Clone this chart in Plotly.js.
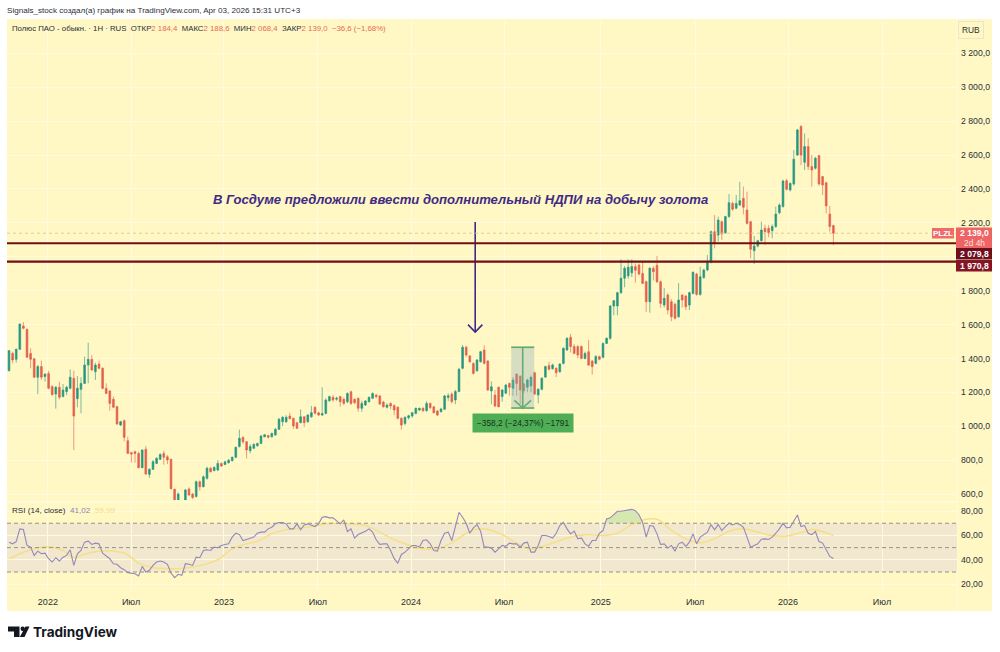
<!DOCTYPE html>
<html><head><meta charset="utf-8">
<script src="https://cdn.plot.ly/plotly-3.0.1.min.js"></script>
<style>html,body{margin:0;padding:0;background:#fff}#c{width:1000px;height:652px}</style>
</head><body><div id="c"></div>
<script>
const opens=[1328,1430,1395,1454,1592,1572,1430,1399,1289,1352,
1293,1312,1234,1190,1230,1175,1204,1224,1283,1163,
1218,1253,1361,1395,1322,1367,1342,1224,1208,1159,
1116,1007,1033,915,844,850,840,756,864,716,
746,781,805,840,820,805,628,560,555,565,
630,600,585,673,643,693,752,738,742,781,
775,785,797,817,880,935,909,856,870,885,
899,938,945,938,948,982,1027,1027,1060,1047,
1021,1021,1056,1027,1056,1112,1080,1066,1076,1150,
1171,1160,1175,1159,1145,1204,1159,1165,1106,1125,
1145,1165,1184,1179,1143,1112,1135,1122,1112,1047,
1017,1050,1060,1076,1096,1106,1092,1135,1115,1090,
1086,1100,1170,1190,1155,1205,1342,1466,1415,1371,
1328,1381,1450,1385,1208,1184,1230,1175,1195,1253,
1224,1308,1296,1250,1230,1238,1316,1184,1218,1290,
1358,1340,1342,1322,1371,1450,1525,1470,1470,1470,
1400,1440,1385,1371,1411,1407,1489,1519,1710,1710,
1788,1873,1887,1905,1942,1952,1902,1853,1735,1932,
1950,1853,1715,1775,1735,1720,1646,1774,1768,1715,
1784,1898,1778,1877,1922,1971,2148,2128,2207,2142,
2237,2315,2286,2305,2345,2276,2207,2036,2063,2095,
2168,2168,2154,2178,2260,2296,2449,2394,2429,2600,
2768,2557,2650,2532,2522,2597,2473,2437,2252,2184.4];
const highs=[1450,1440,1458,1607,1615,1576,1460,1403,1362,1387,
1312,1326,1243,1238,1263,1249,1238,1336,1328,1296,
1289,1411,1493,1420,1375,1387,1348,1253,1214,1175,
1120,1033,1041,938,850,856,850,864,883,752,
801,817,840,856,830,809,632,610,558,630,
640,606,680,680,710,762,760,765,800,787,
797,806,822,880,980,940,912,895,900,903,
950,955,950,963,990,1050,1060,1065,1080,1050,
1025,1100,1060,1072,1120,1118,1085,1230,1165,1180,
1185,1175,1180,1170,1200,1210,1165,1170,1150,1155,
1175,1200,1190,1185,1150,1135,1140,1130,1118,1052,
1058,1068,1085,1110,1110,1112,1148,1140,1120,1095,
1110,1185,1195,1200,1215,1345,1480,1475,1420,1378,
1397,1445,1478,1390,1265,1215,1235,1220,1250,1258,
1290,1312,1300,1255,1280,1300,1322,1225,1290,1358,
1380,1370,1348,1372,1465,1525,1545,1485,1480,1478,
1440,1510,1390,1420,1416,1495,1525,1715,1745,1795,
1985,1945,1985,1985,1960,1960,1970,1860,1940,1945,
2005,1860,1815,1785,1750,1730,1845,1780,1775,1795,
1914,1905,1941,1930,2010,2155,2246,2237,2215,2242,
2370,2325,2364,2442,2414,2384,2212,2122,2100,2207,
2190,2187,2191,2296,2315,2455,2460,2440,2630,2755,
2777,2728,2699,2600,2590,2600,2477,2442,2300,2188.6];
const lows=[1324,1371,1375,1450,1572,1403,1342,1285,1190,1273,
1263,1218,1182,1104,1159,1171,1184,1218,860,1112,
1076,1249,1253,1328,1273,1336,1218,1190,1092,1108,
1009,1001,911,836,787,785,752,752,714,695,
742,777,801,773,777,628,520,545,520,540,
590,570,580,620,640,685,727,735,735,760,
770,780,792,812,875,895,810,840,865,880,
895,935,928,933,945,978,1000,1020,1040,985,
983,1018,995,1020,1050,1070,1060,1060,1070,1145,
1145,1150,1115,1125,1135,1125,1130,1085,1085,1120,
1140,1160,1165,1125,1110,1105,1100,1065,1040,980,
1005,1040,1050,1070,1090,1085,1085,1100,1075,1060,
1080,1095,1150,1135,1130,1200,1335,1410,1375,1305,
1320,1375,1365,1208,1130,1112,1112,1145,1190,1180,
1180,1180,1130,1195,1200,1200,1183,1135,1212,1285,
1330,1335,1290,1315,1365,1445,1435,1425,1400,1395,
1395,1355,1305,1365,1390,1400,1485,1510,1655,1655,
1780,1820,1870,1880,1848,1890,1840,1675,1670,1860,
1845,1700,1700,1660,1620,1630,1640,1700,1686,1686,
1778,1770,1770,1870,1915,1960,2050,2089,2100,2135,
2230,2272,2280,2300,2250,2190,1991,1957,2055,2089,
2069,2115,2109,2170,2250,2290,2390,2385,2420,2595,
2541,2512,2512,2414,2515,2420,2364,2256,2148,2068.4];
const closes=[1446,1391,1454,1603,1578,1407,1395,1289,1352,1289,
1308,1224,1186,1230,1171,1214,1230,1289,1060,1224,
1253,1361,1395,1332,1361,1342,1224,1194,1135,1112,
1013,1027,935,840,836,840,756,860,718,746,
791,811,834,817,801,632,540,600,530,624,
594,580,673,643,702,752,732,757,781,765,
790,800,817,876,929,909,860,880,893,899,
942,950,935,958,982,1041,1053,1053,1045,1002,
988,1056,1021,1066,1080,1077,1066,1075,1155,1175,
1155,1165,1145,1135,1194,1135,1139,1106,1135,1149,
1171,1194,1175,1131,1115,1125,1120,1096,1047,1007,
1053,1062,1080,1106,1106,1092,1135,1110,1080,1066,
1102,1179,1180,1145,1205,1336,1466,1420,1381,1312,
1391,1440,1371,1214,1233,1120,1115,1214,1243,1230,
1273,1253,1214,1210,1273,1289,1190,1218,1283,1352,
1336,1362,1316,1367,1460,1519,1470,1430,1420,1400,
1430,1361,1352,1411,1395,1489,1519,1710,1741,1788,
1873,1932,1938,1942,1920,1898,1843,1735,1932,1912,
1853,1725,1755,1686,1646,1637,1745,1745,1705,1788,
1908,1778,1882,1922,1965,2148,2079,2217,2134,2237,
2319,2280,2315,2331,2292,2197,2044,2063,2095,2158,
2148,2142,2178,2252,2305,2447,2398,2433,2575,2748,
2600,2650,2532,2512,2581,2429,2423,2300,2178,2139];
const rsi=[54.5,53.1,55,65.4,64.8,51.8,50.4,43.6,47.1,45,
45.5,40.9,38.2,41.7,39,42.2,43.6,48.2,35.4,45,
47.7,54.5,55.3,52.6,53.7,53.1,45.5,43,40.9,36.8,
36.3,33.5,31.9,29.5,29.2,28.6,26.7,34.6,30,31.4,
35.4,38.2,39,38.2,36.3,29.2,25.4,28.1,27.3,36.8,
36.3,35.4,42.2,41.7,47.7,48.2,47.7,50.4,49.9,51.8,
52.6,53.1,58.6,61.8,60.7,55.8,56.7,57.8,58.6,61.8,
62.7,62.7,65.4,66.7,69.5,70.5,70.5,69.5,65.4,65.4,
69.5,64.6,68.6,69.5,68.1,67.3,69.5,74.9,75.4,74.4,
74.4,72.2,69.5,72.7,63.2,65.4,57.8,60.7,61.8,63.5,
65.4,62.7,56.4,52.6,53.1,53.1,47.7,40.9,37.3,44.4,
46.3,49,51.8,51.8,50.4,55.8,56.4,53.1,47.7,47.1,
55.8,61.8,62.7,55.8,66.7,79,74.9,70,61.8,66.2,
68.9,63.5,50.4,50.4,49.6,46.3,49,51.8,51,53.7,
53.1,53.1,50.4,53.7,54.5,46.3,46.3,51.8,59.9,59.9,
59.1,57.8,61.8,68.1,70.8,65.4,61.3,63.5,57.2,58,
53.1,51.2,55.8,55.8,61.8,64,73.5,74.4,77,79.8,
79.8,80.5,81.2,81.4,80.3,77,70.8,58.6,68.1,67.6,
61.3,52.6,53.1,49.6,51.8,47.1,53.1,54.5,51,54.5,
61.3,53.1,58.6,60.7,62.7,68.9,64.6,68.9,64,67.3,
70,68.6,70,68.9,66.7,58.6,50.4,51.8,53.1,56.9,
57.2,56.7,58.6,61.8,65.4,70,66.2,66.7,72.2,76.8,
67.3,68.1,61.8,60.7,63.2,55,53.7,47.7,42.8,41.02];
const maWeeks=[0,3,7,9.5,12,15,18,21.5,25,29,32.5,36,40,43.5,47,51,55,58.5,62,66,69.5,73,77,80.5,84,88,91.5,95,99,103,106.5,110,114,119,124,128,132,136.5,140.5,144.5,149,153,157,161,165,169,173,177.5,180.5,183.5,188,192,196,200,204,208,212,216,220.5,223.5,229];
const maValues=[40.9,45,49,50.4,50.4,47.7,42.2,45,47.1,47.1,45,37.3,33.5,32.7,32.7,34.1,36.8,40.9,49,53.1,55.8,61.3,64.6,65.9,67.3,69.5,70,69.5,68.1,62.7,57.2,53.1,49.6,49,55.8,63.5,65.4,61.3,54.5,49,51.8,55.8,59.4,60.7,59.9,61.8,68.9,73.5,72.7,65.4,57.2,53.9,57.2,63.5,65.4,62.7,59.9,59.4,62.7,64.8,59.99];
const obWeeks=[166,167,168,169,170,171,172,173,174,175,176];
const obValues=[73.5,74.4,77,79.8,79.8,80.5,81.2,81.4,80.3,77,70.8];
const priceTicks=[600,800,1000,1200,1400,1600,1800,2000,2200,2400,2600,2800,3000,3200];
const priceTickText=['600,0','800,0','1 000,0','1 200,0','1 400,0','1 600,0','1 800,0','','2 200,0','2 400,0','2 600,0','2 800,0','3 000,0','3 200,0'];
const rsiTicks=[20,40,60,80];
const rsiTickText=['20,00','40,00','60,00','80,00'];
const timeTicks=[10.8,33.9,59.7,85.8,111.7,137.5,164.4,190.6,216.4,242.5];
const timeTickText=['2022','Июл','2023','Июл','2024','Июл','2025','Июл','2026','Июл'];
const supportLevels=[2079.8,1970.8];
const lastClose=2139;
const newsArrowX=[129.5,129.5,null,127.5,129.5,131.5];
const newsArrowY=[2205,1556,null,1600,1556,1600];
const measureFrom=[139.5,145.9];
const measureLevels=[1466,1107.8];

const weeks=opens.map((_,i)=>i);
const W=1000,H=652,L=7,R=992,T=19,B=611;
const px=x=>(x-L)/(R-L), py=y=>1-(y-T)/(B-T);
const BG='#fff8c5',GRID='#fffbdc',TXT='#2a2e39';
const UI='"Liberation Sans",Arial,sans-serif';
const UP='#27967f',DOWN='#e2604c';
const LINE={family:UI,size:8.7,color:TXT};
const mx=(a,b)=>(a+b)/2;

const traces=[
{type:'candlestick',x:weeks,open:opens,high:highs,low:lows,close:closes,xaxis:'x',yaxis:'y',whiskerwidth:0,hoverinfo:'skip',
 increasing:{line:{color:'rgba(39,150,127,0.62)',width:1},fillcolor:UP},
 decreasing:{line:{color:'rgba(226,96,76,0.62)',width:1},fillcolor:DOWN}},
{type:'scatter',mode:'lines',x:newsArrowX,y:newsArrowY,xaxis:'x',yaxis:'y',line:{color:'#3d2c85',width:1.6},hoverinfo:'skip'},
{type:'scatter',mode:'lines',x:[measureFrom[0],measureFrom[1],null,measureFrom[0],measureFrom[1],null,mx(...measureFrom),mx(...measureFrom),null,measureFrom[0]+0.9,mx(...measureFrom),measureFrom[1]-0.9],
 y:[measureLevels[0],measureLevels[0],null,measureLevels[1],measureLevels[1],null,measureLevels[0],measureLevels[1],null,measureLevels[1]+45,measureLevels[1],measureLevels[1]+45],xaxis:'x',yaxis:'y',line:{color:'#4dab52',width:1.6},hoverinfo:'skip'},
{type:'scatter',mode:'lines',x:obWeeks,y:obWeeks.map(()=>70),xaxis:'x',yaxis:'y2',line:{width:0},hoverinfo:'skip'},
{type:'scatter',mode:'lines',x:obWeeks,y:obValues,xaxis:'x',yaxis:'y2',fill:'tonexty',fillcolor:'rgba(130,195,140,0.32)',line:{width:0},hoverinfo:'skip'},
{type:'scatter',mode:'lines',x:maWeeks,y:maValues,xaxis:'x',yaxis:'y2',line:{color:'#f5e08a',width:1.6,shape:'spline'},hoverinfo:'skip'},
{type:'scatter',mode:'lines',x:weeks,y:rsi,xaxis:'x',yaxis:'y2',line:{color:'#9488ba',width:1.1},hoverinfo:'skip'}
];

const shapes=[
 {type:'rect',xref:'paper',yref:'paper',x0:0,x1:1,y0:0,y1:1,fillcolor:BG,line:{width:0},layer:'below'},
 {type:'line',xref:'x',yref:'paper',x0:-1,x1:264,y0:py(502),y1:py(502),line:{color:GRID,width:1.5},layer:'below'},
 {type:'line',xref:'paper',yref:'paper',x0:px(957),x1:px(957),y0:0,y1:1,line:{color:GRID,width:1},layer:'below'},
 {type:'rect',xref:'paper',yref:'y2',x0:0,x1:px(957),y0:30,y1:70,fillcolor:'#f1e8cf',line:{width:0},layer:'below'},
 {type:'line',xref:'paper',yref:'y',x0:0,x1:px(957),y0:lastClose,y1:lastClose,line:{color:'#e6c79c',width:1,dash:'dot'}},
 ...[70,50,30].map(v=>({type:'line',xref:'paper',yref:'y2',x0:0,x1:px(957),y0:v,y1:v,line:{color:'#98937f',width:1,dash:'4px,3px'}})),
 ...supportLevels.map(v=>({type:'line',xref:'paper',yref:'y',x0:0,x1:px(957),y0:v,y1:v,line:{color:'#6e1015',width:2.2}})),
 {type:'rect',xref:'x',yref:'y',x0:measureFrom[0],x1:measureFrom[1],y0:measureLevels[1],y1:measureLevels[0],fillcolor:'rgba(140,175,185,0.36)',line:{width:0}},
 {type:'rect',xref:'paper',yref:'paper',x0:px(932),x1:px(954),y0:py(238.5),y1:py(228),fillcolor:'#ee6c6c',line:{width:0}},
 {type:'rect',xref:'paper',yref:'paper',x0:px(956),x1:1,y0:py(248),y1:py(227.5),fillcolor:'#ee6464',line:{width:0}},
 {type:'rect',xref:'paper',yref:'paper',x0:px(956),x1:1,y0:py(259.5),y1:py(248),fillcolor:'#6d0f1c',line:{width:0}},
 {type:'rect',xref:'paper',yref:'paper',x0:px(956),x1:1,y0:py(271.5),y1:py(260),fillcolor:'#851524',line:{width:0}},
 {type:'path',xref:'paper',yref:'paper',fillcolor:'#131722',line:{width:0},
  path:`M${px(8)} ${py(626.5)} L${px(19.5)} ${py(626.5)} L${px(19.5)} ${py(637)} L${px(14)} ${py(637)} L${px(14)} ${py(631.5)} L${px(8)} ${py(631.5)} Z`},
 {type:'circle',xref:'paper',yref:'paper',fillcolor:'#131722',line:{width:0},x0:px(20.5),x1:px(24.9),y0:py(631),y1:py(626.6)},
 {type:'path',xref:'paper',yref:'paper',fillcolor:'#131722',line:{width:0},
  path:`M${px(25.5)} ${py(626.5)} L${px(29.5)} ${py(626.5)} L${px(24.5)} ${py(637)} L${px(19.8)} ${py(637)} Z`}
];

const note=(x,y,text,o={})=>Object.assign({xref:'paper',yref:'paper',x:px(x),y:py(y),text,showarrow:false,xanchor:'left',yanchor:'middle',font:LINE},o);
const rv=s=>`<span style="color:#e8695a">${s}</span>`;
const annotations=[
 note(5,10,'Signals_stock создал(а) график на TradingView.com, Apr 03, 2026 15:31 UTC+3',{font:{family:UI,size:8.1,color:TXT}}),
 note(10,29,`Полюс ПАО - обыкн. · 1Н · RUS  ОТКР${rv('2 184,4')}  МАКС${rv('2 188,6')}  МИН${rv('2 068,4')}  ЗАКР${rv('2 139,0')}  ${rv('−36,6 (−1,68%)')}`,{font:{family:UI,size:7.8,color:TXT}}),
 note(970.5,30,'RUB',{xanchor:'center',font:{family:UI,size:8.4,color:TXT},bordercolor:'#ece7c2',borderwidth:1,borderpad:3}),
 note(460,200,'<b><i>В Госдуме предложили ввести дополнительный НДПИ на добычу золота</i></b>',{xanchor:'center',font:{family:UI,size:13.1,color:'#3f2b86'}}),
 note(522.5,422.5,'−358,2 (−24,37%) −1791',{xanchor:'center',font:{family:UI,size:8.3,color:'#13301a'},bgcolor:'#4fae55',borderpad:4}),
 note(943,233.3,'<b>PLZL</b>',{xanchor:'center',font:{family:UI,size:8,color:'#fff'}}),
 note(974,233,'<b>2 139,0</b>',{xanchor:'center',font:{family:UI,size:8.6,color:'#fff'}}),
 note(974,243,'2d 4h',{xanchor:'center',font:{family:UI,size:8.4,color:'#ffe3dc'}}),
 note(974,254,'<b>2 079,8</b>',{xanchor:'center',font:{family:UI,size:8.6,color:'#fff'}}),
 note(974,266,'<b>1 970,8</b>',{xanchor:'center',font:{family:UI,size:8.6,color:'#fff'}}),
 note(10,510,'RSI (14, close)  <span style="color:#8d7fb3">41,02</span>  <span style="color:#f2e08a">59,99</span>',{font:{family:UI,size:8.1,color:TXT}}),
 note(31,631.5,'<b>TradingView</b>',{font:{family:'Inter,sans-serif',size:13.6,color:'#131722'}})
];

const yAxisBase={side:'right',anchor:'x',showgrid:true,gridcolor:GRID,gridwidth:1,zeroline:false,showline:false,ticks:'',tickmode:'array',tickfont:LINE,fixedrange:true,ticklabelstandoff:3};
const layout={
 width:W,height:H,autosize:false,showlegend:false,paper_bgcolor:'#ffffff',plot_bgcolor:'rgba(0,0,0,0)',
 margin:{l:L,r:W-R,t:T,b:H-B,pad:0},
 xaxis:{domain:[0,px(957)],range:[(7-9)/3.6,(957-9)/3.6],anchor:'y2',type:'linear',tickmode:'array',tickvals:timeTicks,ticktext:timeTickText,
   tickfont:{family:UI,size:9,color:TXT},showgrid:true,gridcolor:GRID,gridwidth:1,zeroline:false,showline:false,ticks:'',rangeslider:{visible:false},fixedrange:true,ticklabelstandoff:3},
 yaxis:Object.assign({},yAxisBase,{domain:[py(500),py(21)],range:[565,3391],tickvals:priceTicks,ticktext:priceTickText}),
 yaxis2:Object.assign({},yAxisBase,{domain:[py(592),py(503)],range:[13.6,86.6],tickvals:rsiTicks,ticktext:rsiTickText}),
 shapes,annotations
};
Plotly.newPlot('c',traces,layout,{displayModeBar:false,staticPlot:true});
</script></body></html>
